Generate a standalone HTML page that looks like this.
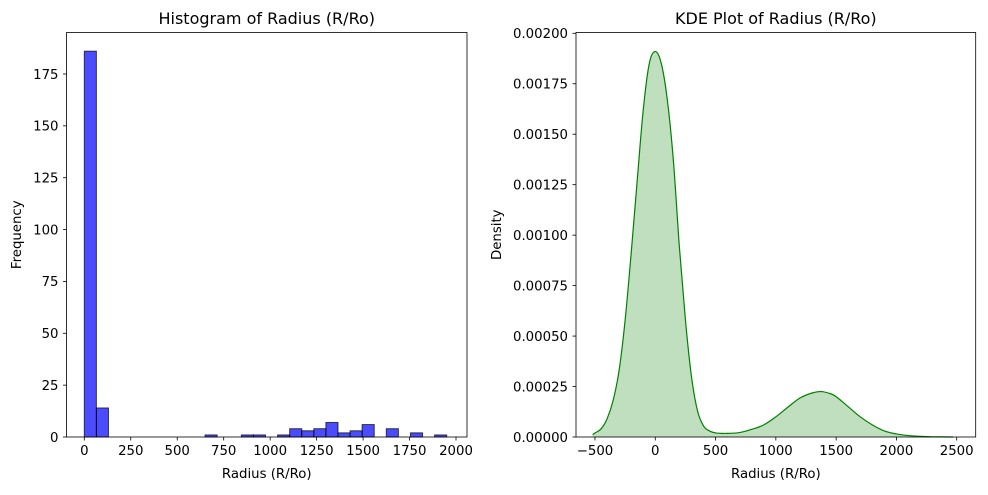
<!DOCTYPE html>
<html><head><meta charset="utf-8"><style>
body{margin:0;background:#fff}
svg text{font-family:"DejaVu Sans","Liberation Sans",sans-serif;fill:#000}
</style></head><body>
<svg id="fig" width="988" height="490" xmlns="http://www.w3.org/2000/svg">
<g id="left"></g>
<g id="right"></g>
</svg>
<script>
const histCounts=[186,14,0,0,0,0,0,0,0,0,1,0,0,1,1,0,1,4,3,4,7,2,3,6,0,4,0,2,0,1];
const histBinStart=0;
const histBinWidth=65;
const histXTicks=[0,250,500,750,1000,1250,1500,1750,2000];
const histYTicks=[0,25,50,75,100,125,150,175];
const kdeX=[-520,-500,-450,-400,-350,-300,-250,-200,-150,-100,-50,0,50,100,150,200,250,300,350,400,450,500,550,600,700,800,900,1000,1100,1200,1300,1375,1450,1500,1600,1700,1800,1900,2000,2100,2200,2300,2470];
const kdeY=[0.000012,0.00002,0.00004,0.00009,0.00018,0.00033,0.00058,0.00091,0.00127,0.00162,0.00185,0.00191,0.00185,0.00167,0.00137,0.00094,0.00058,0.00030,0.00013,0.000055,0.00003,0.00002,0.000018,0.000018,0.000022,0.000038,0.00006,0.0001,0.000148,0.000193,0.000218,0.000225,0.000215,0.0002,0.00015,0.0001,0.00006,0.00003,0.000015,0.000007,0.000003,0.000001,0];
const kdeXTicks=[-500,0,500,1000,1500,2000,2500];
const kdeYTicks=[0,0.00025,0.0005,0.00075,0.001,0.00125,0.0015,0.00175,0.002];
const NS="http://www.w3.org/2000/svg";
const TICK=13.3, TITLE=16, LABEL=13.3;
function mk(parent,tag,attrs,txt){const e=document.createElementNS(NS,tag);for(const k in attrs)e.setAttribute(k,attrs[k]);if(txt!==undefined)e.textContent=txt;parent.appendChild(e);return e;}
function axesFrame(g,L,T,R,B){const f=mk(g,'rect',{x:L,y:T,width:R-L,height:B-T,fill:'none',stroke:'#000','stroke-width':0.8});

}
// LEFT
(function(){
const g=document.getElementById('left');
const L=66.5,T=32.5,R=467,B=437;
const sx=v=>84.3+v*0.18585, sy=v=>B-v*(363/175);
histCounts.forEach((c,i)=>{if(c<=0)return;const x0=sx(histBinStart+i*histBinWidth),x1=sx(histBinStart+(i+1)*histBinWidth);
const r=mk(g,'rect',{x:x0,y:sy(c),width:x1-x0,height:B-sy(c),fill:'rgba(0,0,255,0.7)',stroke:'rgba(0,0,0,0.7)','stroke-width':1});

});
axesFrame(g,L,T,R,B);
histXTicks.forEach(t=>{const x=sx(t);mk(g,'line',{x1:x,x2:x,y1:B,y2:B+3.5,stroke:'#000','stroke-width':0.8});
const tx=mk(g,'text',{x:x,y:B+18,'font-size':TICK,'text-anchor':'middle'},t);

});
histYTicks.forEach(t=>{const y=sy(t);mk(g,'line',{x1:L,x2:L-3.5,y1:y,y2:y,stroke:'#000','stroke-width':0.8});
const tx=mk(g,'text',{x:L-8,y:y+4.8,'font-size':TICK,'text-anchor':'end'},t);

});
const t1=mk(g,'text',{x:(L+R)/2,y:24,'font-size':TITLE,'text-anchor':'middle'},'Histogram of Radius (R/Ro)');


const xl=mk(g,'text',{x:(L+R)/2,y:478,'font-size':LABEL,'text-anchor':'middle'},'Radius (R/Ro)');


const yl=mk(g,'text',{x:0,y:0,'font-size':LABEL,'text-anchor':'middle',transform:'translate(21,'+((T+B)/2)+') rotate(-90)'},'Frequency');


})();
// RIGHT
(function(){
const g=document.getElementById('right');
const L=576,T=32.5,R=975.7,B=437;
const sx=v=>595+(v+500)*(361.7/3000), sy=v=>B-v*(403.7/0.002);
const pts=kdeX.map((x,i)=>[sx(x),sy(kdeY[i])]);
let d='M'+pts[0][0]+','+pts[0][1];
for(let i=0;i<pts.length-1;i++){const p0=pts[Math.max(0,i-1)],p1=pts[i],p2=pts[i+1],p3=pts[Math.min(pts.length-1,i+2)];
const c1=[p1[0]+(p2[0]-p0[0])/6,p1[1]+(p2[1]-p0[1])/6],c2=[p2[0]-(p3[0]-p1[0])/6,p2[1]-(p3[1]-p1[1])/6];
d+=' C'+c1[0]+','+c1[1]+' '+c2[0]+','+c2[1]+' '+p2[0]+','+p2[1];}
const fill=mk(g,'path',{d:d+' L'+pts[pts.length-1][0]+','+B+' L'+pts[0][0]+','+B+' Z',fill:'rgba(0,128,0,0.25)',stroke:'none'});


const line=mk(g,'path',{d:d,fill:'none',stroke:'green','stroke-width':1.2});


axesFrame(g,L,T,R,B);
kdeXTicks.forEach(t=>{const x=sx(t);mk(g,'line',{x1:x,x2:x,y1:B,y2:B+3.5,stroke:'#000','stroke-width':0.8});
const tx=mk(g,'text',{x:x,y:B+18,'font-size':TICK,'text-anchor':'middle'},t<0?'\u2212'+(-t):t);

});
kdeYTicks.forEach(t=>{const y=sy(t);mk(g,'line',{x1:L,x2:L-3.5,y1:y,y2:y,stroke:'#000','stroke-width':0.8});
const tx=mk(g,'text',{x:L-8,y:y+4.8,'font-size':TICK,'text-anchor':'end'},t.toFixed(5));

});
const t1=mk(g,'text',{x:(L+R)/2,y:24,'font-size':TITLE,'text-anchor':'middle'},'KDE Plot of Radius (R/Ro)');


const xl=mk(g,'text',{x:(L+R)/2,y:478,'font-size':LABEL,'text-anchor':'middle'},'Radius (R/Ro)');


const yl=mk(g,'text',{x:0,y:0,'font-size':LABEL,'text-anchor':'middle',transform:'translate(501,'+((T+B)/2)+') rotate(-90)'},'Density');


})();
</script>
</body></html>
